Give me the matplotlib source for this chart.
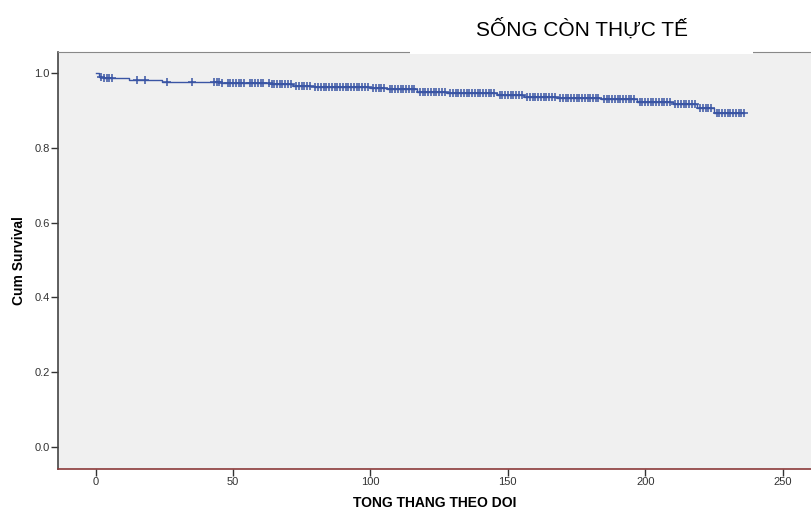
import numpy as np
import matplotlib.pyplot as plt
from matplotlib.patches import Rectangle

# step function of the survival estimate (time, cum survival after the step)
event_times = [0, 1.4, 3, 12, 24, 33, 46, 56, 64, 72, 80, 100, 106, 117, 128,
               146, 156, 168, 184, 197, 210, 219, 225]
event_surv = [1.0, 0.990, 0.986, 0.981, 0.977, 0.975, 0.974, 0.972, 0.970,
              0.966, 0.963, 0.959, 0.956, 0.950, 0.946, 0.941, 0.937, 0.932,
              0.930, 0.923, 0.916, 0.907, 0.892]
end_time = 236

# censored observations
censor_times = [2, 3, 4, 5, 6, 15, 18, 26, 35, 43, 44, 45, 46, 48, 49, 50,
                51, 52, 53, 54, 56, 57, 58, 59, 60, 61, 63, 64, 65, 66, 67,
                68, 69, 70, 71, 73, 74, 75, 76, 77, 78, 80, 81, 82, 83, 84,
                85, 86, 87, 88, 89, 90, 91, 92, 93, 94, 95, 96, 97, 98, 99,
                101, 102, 103, 104, 105, 107, 108, 109, 110, 111, 112, 113,
                114, 115, 116, 118, 119, 120, 121, 122, 123, 124, 125, 126,
                127, 129, 130, 131, 132, 133, 134, 135, 136, 137, 138, 139,
                140, 141, 142, 143, 144, 145, 147, 148, 149, 150, 151, 152,
                153, 154, 155, 157, 158, 159, 160, 161, 162, 163, 164, 165,
                166, 167, 169, 170, 171, 172, 173, 174, 175, 176, 177, 178,
                179, 180, 181, 182, 183, 185, 186, 187, 188, 189, 190, 191,
                192, 193, 194, 195, 196, 198, 199, 200, 201, 202, 203, 204,
                205, 206, 207, 208, 209, 211, 212, 213, 214, 215, 216, 217,
                218, 220, 221, 222, 223, 224, 226, 227, 228, 229, 230, 231,
                232, 233, 234, 235, 236]

xticks = [0, 50, 100, 150, 200, 250]
yticks = [0.0, 0.2, 0.4, 0.6, 0.8, 1.0]

plt.rcParams['font.family'] = ['Liberation Sans', 'DejaVu Sans']

fig = plt.figure(figsize=(8.12, 5.13), dpi=100)
ax = fig.add_axes([58 / 812, 1 - 469 / 513, 1 - 58 / 812, (469 - 52) / 513])
ax.set_facecolor('#f0f0f0')

blue = '#3a55a4'
st = list(event_times) + [end_time]
ss = list(event_surv) + [event_surv[-1]]
ax.step(st, ss, where='post', color=blue, lw=1)

idx = np.searchsorted(event_times, censor_times, side='right') - 1
csurv = np.array(event_surv)[idx]
ax.plot(censor_times, csurv, ls='none', marker='+', ms=6, mew=1.1,
        color=blue)

ax.set_xlim(-13.7, 260.7)
ax.set_ylim(-0.059, 1.056)
ax.set_xticks(xticks)
ax.set_yticks(yticks)
ax.set_xticklabels([str(v) for v in xticks])
ax.set_yticklabels(['%.1f' % v for v in yticks])
ax.tick_params(length=5, width=1, color='#333333', labelsize=8,
               labelcolor='#333333', pad=1)

ax.spines['right'].set_visible(False)
ax.spines['left'].set_color('#444444')
ax.spines['top'].set_color('#888888')
ax.spines['bottom'].set_color('#8b3a3a')
ax.spines['left'].set_linewidth(1.2)
ax.spines['bottom'].set_linewidth(1.2)

ax.set_xlabel('TONG THANG THEO DOI', fontsize=10, fontweight='bold',
              labelpad=6)
ax.set_ylabel('Cum Survival', fontsize=10, fontweight='bold', labelpad=6)

# white title box covering the top frame
fig.patches.append(Rectangle((410 / 812, 1 - 54 / 513), (753 - 410) / 812,
                             54 / 513, transform=fig.transFigure,
                             facecolor='white', edgecolor='none', zorder=5))
fig.text(582 / 812, 1 - 29 / 513, 'SỐNG CÒN THỰC TẾ', fontsize=15,
         ha='center', va='center', zorder=6)

fig.savefig('out.png', dpi=100)
